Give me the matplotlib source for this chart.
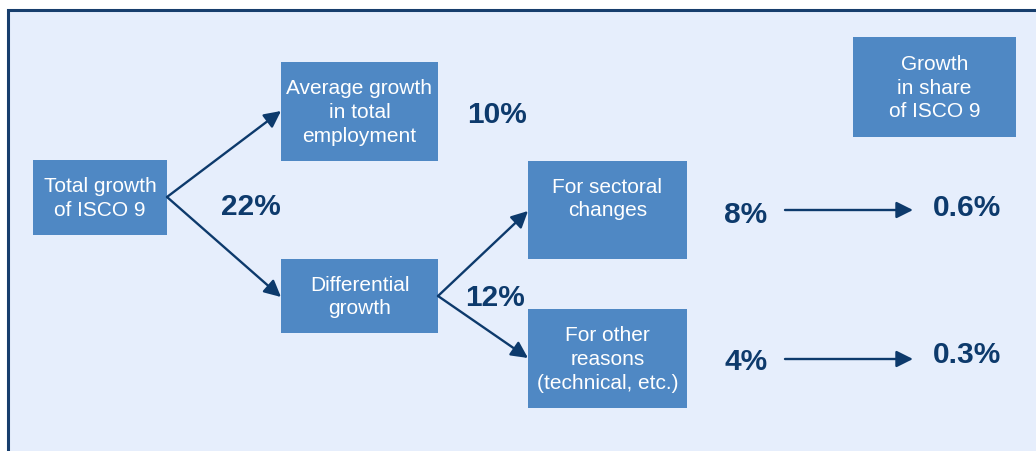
import matplotlib.pyplot as plt
from matplotlib.patches import Rectangle, FancyArrowPatch

plt.rcParams['font.family'] = ['Liberation Sans', 'DejaVu Sans']

# labels of the boxes
box_labels = ['Total growth\nof ISCO 9', 'Average growth\nin total\nemployment', 'Differential\ngrowth',
              'For sectoral\nchanges\n', 'For other\nreasons\n(technical, etc.)', 'Growth\nin share\nof ISCO 9']
# growth figures
total_growth = '22%'
avg_growth = '10%'
diff_growth = '12%'
component_growth = ['8%', '4%']
share_growth = ['0.6%', '0.3%']

BG = '#E6EEFC'
BOX = '#4F88C4'
NAVY = '#0D3A6C'

# box layout in pixel coords: x0, y0, x1, y1
layout = [(33, 160, 167, 235), (281, 62, 438, 161), (281, 259, 438, 333),
          (528, 161, 687, 259), (528, 309, 687, 408), (853, 37, 1016, 137)]

fig = plt.figure(figsize=(10.36, 4.51), dpi=100)
fig.patch.set_facecolor('white')
ax = fig.add_axes([0, 0, 1, 1])
ax.set_xlim(0, 1036)
ax.set_ylim(451, 0)
ax.axis('off')

# frame
ax.add_patch(Rectangle((8, 10), 1040, 460, facecolor=BG, edgecolor='#173E6D', lw=2.2))

for (x0, y0, x1, y1), lab in zip(layout, box_labels):
    ax.add_patch(Rectangle((x0, y0), x1 - x0, y1 - y0, facecolor=BOX, edgecolor='none'))
    ax.text((x0 + x1) / 2, (y0 + y1) / 2 + 1, lab, color='white', fontsize=15, ha='center', va='center',
            linespacing=1.32)


def arrow(p0, p1):
    ax.add_patch(FancyArrowPatch(p0, p1, arrowstyle='-|>', mutation_scale=25, color=NAVY, lw=1.7,
                                 shrinkA=0, shrinkB=0))


arrow((167, 197), (281, 111))
arrow((167, 197), (281, 297))
arrow((438, 296), (528, 211))
arrow((438, 296), (528, 358))
arrow((785, 210), (913, 210))
arrow((785, 359), (913, 359))

big = dict(color=NAVY, fontsize=21.5, fontweight='bold', ha='center', va='center')
ax.text(251, 207, total_growth, **big)
ax.text(497, 115, avg_growth, **big)
ax.text(495, 298, diff_growth, **big)
for y, c, s in zip([215, 362], component_growth, share_growth):
    ax.text(746, y, c, **big)
    ax.text(967, y - 7, s, **big)

fig.savefig('out.png', dpi=100, facecolor='white')
